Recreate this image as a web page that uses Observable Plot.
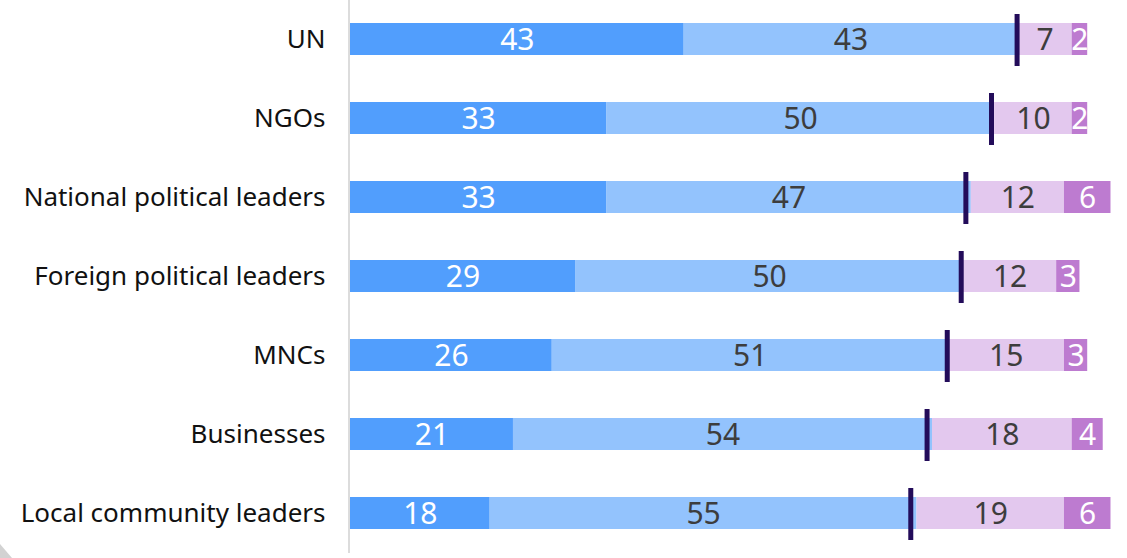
<!DOCTYPE html>
<html>
<head>
<meta charset="utf-8">
<script src="https://cdn.jsdelivr.net/npm/d3@7"></script>
<script src="https://cdn.jsdelivr.net/npm/@observablehq/plot@0.6"></script>
<style>
  html, body { margin: 0; padding: 0; background: #fff; }
  #chart { position: relative; width: 1127px; height: 558px; overflow: hidden; }
  #corner { position: absolute; left: 0; top: 544px; width: 12px; height: 14px; background: #d2d2d2; clip-path: polygon(0 0, 100% 100%, 0 100%); }
</style>
</head>
<body>
<div id="chart"></div>
<script>
const categories = ["UN", "NGOs", "National political leaders", "Foreign political leaders", "MNCs", "Businesses", "Local community leaders"];
const series1 = [43, 33, 33, 29, 26, 21, 18];
const series2 = [43, 50, 47, 50, 51, 54, 55];
const series3 = [7, 10, 12, 12, 15, 18, 19];
const series4 = [2, 2, 6, 3, 3, 4, 6];
const markerValues = [85.9, 82.6, 79.3, 78.7, 76.9, 74.3, 72.2];
const segmentColors = ["#519efd", "#93c3fd", "#e3c8ee", "#bd7bd0"];
const textColors = ["#ffffff", "#3d3d3d", "#3d3d3d", "#ffffff"];

const allSeries = [series1, series2, series3, series4];
const rows = [];
categories.forEach((c, i) => {
  allSeries.forEach((s, k) => rows.push({cat: c, seg: k, value: s[i]}));
});
const markers = categories.map((c, i) => ({cat: c, value: markerValues[i]}));

const font = "'Noto Sans', sans-serif";

const chart = Plot.plot({
  width: 1127,
  height: 558,
  marginLeft: 350,
  marginRight: 1,
  marginTop: 0,
  marginBottom: 5,
  style: {fontFamily: font, background: "transparent"},
  x: {domain: [0, 100], axis: null},
  y: {domain: categories, padding: 0, label: null},
  color: {domain: [0, 1, 2, 3], range: segmentColors},
  marks: [
    Plot.barX(rows, Plot.stackX({x: "value", y: "cat", z: "seg", fill: d => d.seg, order: null, insetTop: 23, insetBottom: 24})),
    Plot.text(rows, Plot.stackX({x: "value", y: "cat", z: "seg", order: null, text: d => String(d.value), fill: d => textColors[d.seg], fontSize: 30, dy: 0})),
    Plot.tickX(markers, {x: "value", y: "cat", stroke: "#230c5a", strokeWidth: 5, insetTop: 14, insetBottom: 13}),
    Plot.ruleX([0], {stroke: "#dcdcdc", strokeWidth: 2, dx: -1.5}),
    Plot.axisY({tickSize: 0, tickPadding: 25, fontSize: 26, color: "#111", label: null})
  ]
});
document.getElementById("chart").appendChild(chart);
const corner = document.createElement("div");
corner.id = "corner";
document.getElementById("chart").appendChild(corner);
</script>
</body>
</html>
